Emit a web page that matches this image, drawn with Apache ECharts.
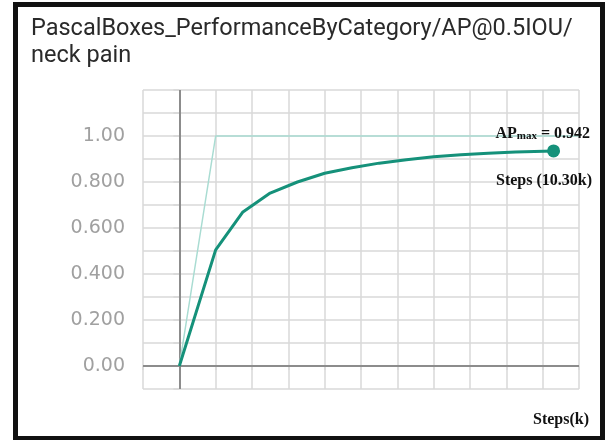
<!DOCTYPE html>
<html>
<head>
<meta charset="utf-8">
<script src="https://cdn.jsdelivr.net/npm/echarts@6/dist/echarts.min.js"></script>
<style>
html,body{margin:0;padding:0;background:#fff;}
#c{width:610px;height:440px;}
</style>
</head>
<body>
<div id="c"></div>
<script>
// Data
var titleText = 'PascalBoxes_PerformanceByCategory/AP@0.5IOU/\nneck pain';
var apSteps = [0, 1, 1.75, 2.5, 3.25, 4, 4.75, 5.5, 6.25, 7, 7.75, 8.5, 9.25, 10.3];
var apValues = [0, 0.505, 0.67, 0.752, 0.8, 0.838, 0.862, 0.882, 0.897, 0.91, 0.919, 0.925, 0.93, 0.935];
var maxSteps = [0, 1, 11];
var maxValues = [0, 1.0, 1.0];
var yTickLabels = {0: '0.00', 2: '0.200', 4: '0.400', 6: '0.600', 8: '0.800', 10: '1.00'};
var apMaxText = '0.942';
var apMaxStepText = 'Steps (10.30k)';
var xAxisName = 'Steps(k)';

function pairs(xs, ys) { return xs.map(function (x, i) { return [x, ys[i]]; }); }

var chart = echarts.init(document.getElementById('c'), null, {renderer: 'canvas'});
var gridColor = '#d8d8d8';
chart.setOption({
  backgroundColor: '#ffffff',
  animation: false,
  title: {
    text: titleText,
    left: 26,
    top: 11,
    textStyle: {fontFamily: 'Roboto', fontSize: 23.5, fontWeight: 'normal', color: '#2a2a2a', lineHeight: 27}
  },
  grid: {left: 143, right: 31, top: 90, bottom: 51},
  xAxis: {
    type: 'value', min: -1, max: 11, interval: 1,
    axisLine: {show: false},
    axisTick: {show: true, length: 4, lineStyle: {color: gridColor, width: 1.5}},
    axisLabel: {show: false},
    splitLine: {show: true, lineStyle: {color: gridColor, width: 1.5}}
  },
  yAxis: {
    type: 'value', min: -0.1, max: 1.2, interval: 0.1,
    axisLine: {show: false},
    axisTick: {show: true, length: 6, lineStyle: {color: gridColor, width: 1.5}},
    axisLabel: {
      show: true, margin: 18, color: '#a0a0a0', fontFamily: 'DejaVu Sans', fontSize: 19,
      formatter: function (v) { var k = Math.round(v * 10); return yTickLabels[k] !== undefined ? yTickLabels[k] : ''; }
    },
    splitLine: {show: true, lineStyle: {color: gridColor, width: 1.5}}
  },
  series: [
    {
      type: 'line', data: pairs(maxSteps, maxValues), showSymbol: false, silent: true,
      lineStyle: {color: '#a9dcd2', width: 1.5}, z: 3,
      markLine: {
        silent: true, symbol: 'none', label: {show: false},
        lineStyle: {color: '#8c8c8c', width: 2, type: 'solid'},
        data: [{xAxis: 0}, {yAxis: 0}],
        z: 2
      }
    },
    {
      type: 'line', data: pairs(apSteps, apValues), silent: true,
      symbol: 'circle', symbolSize: function (v, p) { return p.dataIndex === apSteps.length - 1 ? 13 : 0; },
      showAllSymbol: true,
      itemStyle: {color: '#15917a'},
      lineStyle: {color: '#15917a', width: 3}, z: 4
    }
  ],
  graphic: [
    {type: 'rect', shape: {x: 13, y: 2, width: 592, height: 5}, style: {fill: '#111'}, z: 100},
    {type: 'rect', shape: {x: 13, y: 2, width: 5, height: 438}, style: {fill: '#111'}, z: 100},
    {type: 'rect', shape: {x: 600, y: 2, width: 5, height: 438}, style: {fill: '#111'}, z: 100},
    {type: 'rect', shape: {x: 13, y: 436, width: 592, height: 4}, style: {fill: '#111'}, z: 100},
    {
      type: 'text', right: 20, top: 126, z: 50,
      style: {
        text: '{a|AP}{b|max}{a| = ' + apMaxText + '}',
        rich: {
          a: {fontFamily: 'Liberation Serif', fontWeight: 'bold', fontSize: 16, fill: '#111'},
          b: {fontFamily: 'Liberation Serif', fontWeight: 'bold', fontSize: 11, fill: '#111', padding: [4, 0, 0, 0]}
        }
      }
    },
    {
      type: 'text', right: 18, top: 173, z: 50,
      style: {text: apMaxStepText, fontFamily: 'Liberation Serif', fontWeight: 'bold', fontSize: 16, fill: '#111'}
    },
    {
      type: 'text', right: 21, top: 412, z: 50,
      style: {text: xAxisName, fontFamily: 'Liberation Serif', fontWeight: 'bold', fontSize: 16, fill: '#111'}
    }
  ]
});
</script>
</body>
</html>
